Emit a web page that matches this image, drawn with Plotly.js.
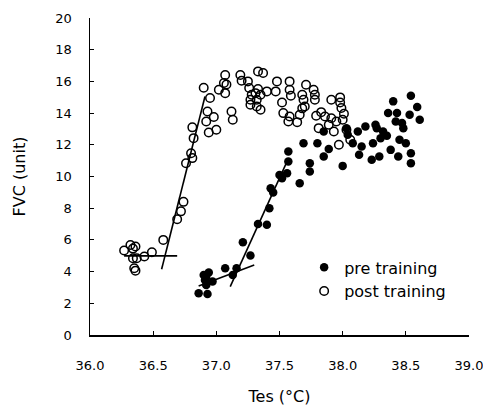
<!DOCTYPE html>
<html>
<head>
<meta charset="utf-8">
<script src="https://cdn.plot.ly/plotly-3.0.1.min.js"></script>
<style>html,body{margin:0;padding:0;background:#fff;}#chart{width:483px;height:406px;}</style>
</head>
<body>
<div id="chart"></div>
<script>
// Post training (open circles)
const postX = [36.27,36.32,36.36,36.34,36.34,36.37,36.43,36.49,36.35,36.36,36.58,
  36.69,36.72,36.74,36.76,36.80,36.81,36.82,36.81,36.90,36.95,36.92,36.93,36.94,36.98,37.00,
  37.02,37.06,37.07,37.08,37.07,37.12,37.13,37.19,37.20,37.25,37.26,37.28,37.27,37.27,37.31,37.32,37.32,37.33,37.33,37.35,37.37,37.40,37.35,
  37.48,37.47,37.52,37.53,37.57,37.58,37.58,37.59,37.58,37.64,37.66,37.68,37.68,37.69,37.71,37.70,
  37.77,37.78,37.78,37.79,37.81,37.83,37.86,37.89,37.91,37.91,37.93,37.95,37.97,37.98,37.98,37.99,38.01,38.00,38.03,38.06];
const postY = [5.33,5.68,5.58,5.45,4.84,4.84,4.95,5.22,4.21,4.06,6.00,
  7.30,7.80,8.40,10.84,11.47,11.16,12.42,13.10,15.60,14.95,13.47,14.10,12.78,13.75,12.95,
  15.47,15.90,16.40,15.80,15.26,14.10,13.58,16.40,16.04,16.00,15.58,15.16,14.84,14.53,15.26,14.84,14.42,15.52,16.63,14.21,16.53,15.37,15.16,
  16.00,15.37,14.67,14.00,13.47,16.00,15.47,15.10,13.79,13.43,13.90,15.16,14.30,14.84,15.79,14.42,
  15.47,15.16,14.84,13.83,13.05,14.06,13.79,13.26,14.84,13.68,12.84,13.47,12.00,14.67,14.99,14.32,13.96,13.58,12.95,12.32];

// Pre training (filled circles)
const preX = [36.86,36.93,36.91,36.92,36.94,36.90,36.92,36.97,37.07,37.13,37.16,37.21,37.27,37.33,37.40,37.42,37.43,37.45,
  37.50,37.52,37.56,37.57,37.57,37.66,37.69,37.74,37.74,37.80,37.85,37.85,37.89,38.00,38.03,38.04,38.08,38.12,38.13,38.15,
  38.18,38.23,38.24,38.26,38.27,38.29,38.30,38.32,38.35,38.36,38.38,38.40,38.42,38.43,38.44,38.45,38.47,38.48,38.50,38.53,38.54,38.54,38.54,38.59,38.61];
const preY = [2.63,2.59,3.47,3.68,3.94,3.79,3.16,3.37,4.21,3.79,4.21,5.85,5.01,7.01,6.95,8.00,9.26,8.99,
  10.10,9.89,10.21,10.95,11.58,9.58,12.10,10.84,10.32,12.10,11.26,12.84,11.73,10.67,13.05,12.63,12.10,12.84,11.37,11.89,
  13.16,11.05,12.10,13.26,13.05,11.26,12.42,12.84,12.57,14.00,11.68,14.74,13.47,14.00,11.26,12.32,13.37,13.05,12.10,13.90,15.10,11.47,10.84,14.38,13.58];

// Fitted line segments
const postBaseX = [36.27, 36.69], postBaseY = [4.99, 4.99];
const postRiseX = [36.567, 36.91], postRiseY = [4.15, 15.05];
const preBaseX = [36.86, 37.30], preBaseY = [3.09, 4.42];
const preRiseX = [37.11, 37.56], preRiseY = [3.05, 10.95];

const lineStyle = {color: '#000', width: 1.6};
const traces = [
  {x: preX, y: preY, mode: 'markers', type: 'scatter', name: 'pre training', legendgroup: 'a',
   marker: {symbol: 'circle', size: 8.5, color: '#000'}},
  {x: postX, y: postY, mode: 'markers', type: 'scatter', name: 'post training', legendgroup: 'b',
   marker: {symbol: 'circle-open', size: 8.5, color: '#000', line: {width: 1.5, color: '#000'}}},
  {x: postBaseX, y: postBaseY, mode: 'lines', showlegend: false, line: lineStyle},
  {x: postRiseX, y: postRiseY, mode: 'lines', showlegend: false, line: lineStyle},
  {x: preBaseX, y: preBaseY, mode: 'lines', showlegend: false, line: lineStyle},
  {x: preRiseX, y: preRiseY, mode: 'lines', showlegend: false, line: lineStyle}
];

const fam = 'DejaVu Sans, Arial, sans-serif';
const layout = {
  width: 483, height: 406,
  margin: {l: 90, r: 14, t: 18, b: 71},
  paper_bgcolor: '#fff', plot_bgcolor: '#fff',
  font: {family: fam, color: '#000'},
  showlegend: true,
  legend: {x: 0.565, y: 0.267, xanchor: 'left', yanchor: 'top', bgcolor: 'rgba(0,0,0,0)',
    font: {family: fam, size: 16, color: '#000'}, tracegroupgap: 0},
  xaxis: {range: [36, 39], dtick: 0.5, tick0: 36, tickformat: '.1f', showgrid: false, zeroline: false,
    showline: true, linecolor: '#000', linewidth: 1.5, ticks: 'inside', ticklen: 4, tickcolor: '#000',
    ticklabelstandoff: 18, ticklabeloverflow: 'allow',
    tickfont: {family: fam, size: 13, color: '#000'},
    title: {text: 'Tes (°C)', font: {family: fam, size: 16, color: '#000'}, standoff: 18}},
  yaxis: {range: [0, 20], dtick: 2, showgrid: false, zeroline: false,
    showline: true, linecolor: '#000', linewidth: 1.5, ticks: 'inside', ticklen: 4, tickcolor: '#000',
    ticklabelstandoff: 14,
    tickfont: {family: fam, size: 13, color: '#000'},
    title: {text: 'FVC (unit)', font: {family: fam, size: 16, color: '#000'}, standoff: 26}}
};
Plotly.newPlot('chart', traces, layout, {displayModeBar: false, staticPlot: true});
</script>
</body>
</html>
